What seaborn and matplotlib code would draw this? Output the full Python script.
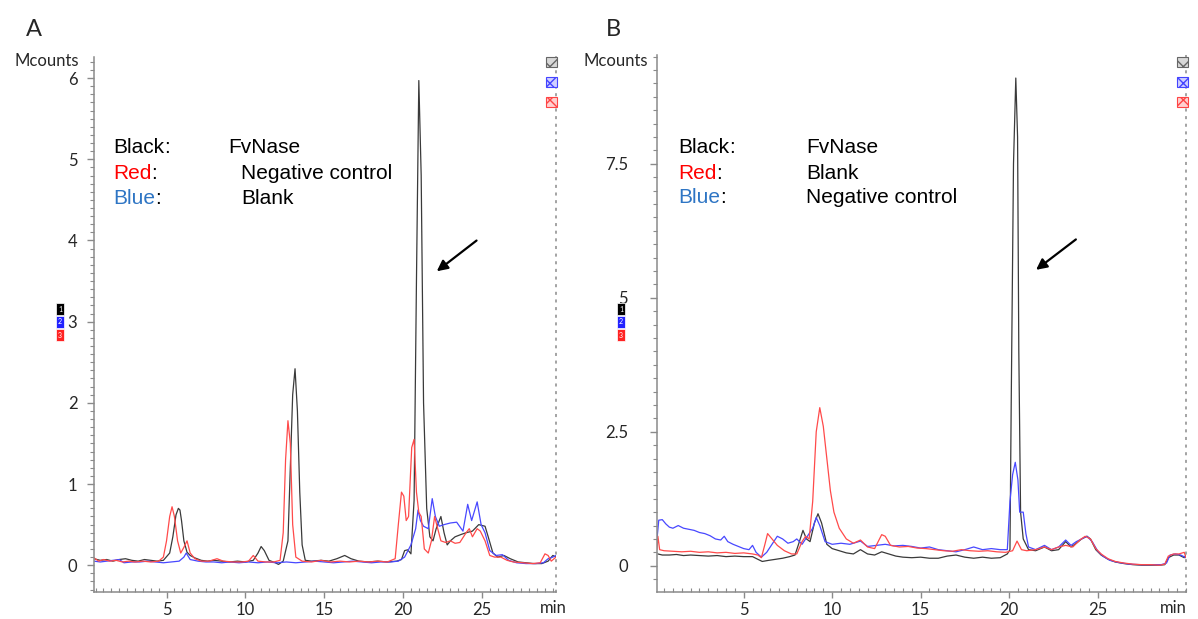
import numpy as np
import pandas as pd
import matplotlib
matplotlib.use('Agg')
import matplotlib.pyplot as plt
from matplotlib.ticker import MultipleLocator
from matplotlib.patches import Rectangle
import seaborn as sns

# (time [min], signal [Mcounts])
a_black = [(0.4, 0.08), (0.8, 0.06), (1.2, 0.07), (1.6, 0.05), (2.0, 0.07), (2.4, 0.08), (2.8, 0.06),
           (3.2, 0.05), (3.6, 0.07), (4.0, 0.06), (4.4, 0.05), (4.8, 0.06), (5.2, 0.15), (5.4, 0.35),
           (5.6, 0.62), (5.75, 0.70), (5.85, 0.68), (5.95, 0.55), (6.1, 0.30), (6.3, 0.16), (6.5, 0.12),
           (6.8, 0.09), (7.2, 0.06), (7.6, 0.05), (8.0, 0.06), (8.5, 0.05), (9.0, 0.04), (9.5, 0.05),
           (10.0, 0.04), (10.5, 0.06), (10.8, 0.15), (11.0, 0.23), (11.2, 0.18), (11.5, 0.06),
           (11.9, 0.03), (12.1, 0.01), (12.4, 0.05), (12.7, 0.30), (12.85, 1.2), (13.0, 2.1),
           (13.15, 2.42), (13.3, 1.9), (13.45, 0.9), (13.6, 0.25), (13.8, 0.06), (14.2, 0.05),
           (14.8, 0.06), (15.3, 0.05), (15.8, 0.08), (16.3, 0.12), (16.7, 0.08), (17.2, 0.05),
           (17.8, 0.04), (18.4, 0.05), (19.0, 0.04), (19.6, 0.05), (19.9, 0.07), (20.1, 0.18),
           (20.3, 0.19), (20.5, 0.14), (20.7, 0.8), (20.85, 3.5), (21.0, 5.97), (21.15, 4.8),
           (21.3, 2.0), (21.5, 0.7), (21.7, 0.35), (21.9, 0.30), (22.1, 0.45), (22.4, 0.60),
           (22.6, 0.40), (22.8, 0.25), (23.0, 0.30), (23.3, 0.35), (23.7, 0.38), (24.0, 0.40),
           (24.4, 0.42), (24.8, 0.50), (25.2, 0.48), (25.4, 0.35), (25.7, 0.15), (26.0, 0.10),
           (26.4, 0.12), (26.8, 0.08), (27.3, 0.04), (27.8, 0.03), (28.3, 0.02), (28.8, 0.02),
           (29.2, 0.05), (29.5, 0.12), (29.7, 0.10)]

a_red = [(0.4, 0.09), (0.7, 0.05), (1.0, 0.07), (1.4, 0.05), (1.8, 0.06), (2.2, 0.04), (2.6, 0.05),
         (3.0, 0.04), (3.5, 0.05), (4.0, 0.04), (4.5, 0.05), (4.8, 0.10), (5.0, 0.30), (5.2, 0.60),
         (5.35, 0.72), (5.5, 0.60), (5.7, 0.30), (5.9, 0.15), (6.1, 0.22), (6.3, 0.30), (6.5, 0.15),
         (6.8, 0.08), (7.2, 0.05), (7.7, 0.05), (8.2, 0.08), (8.6, 0.05), (9.2, 0.04), (9.8, 0.04),
         (10.2, 0.05), (10.5, 0.12), (10.8, 0.05), (11.3, 0.04), (11.8, 0.04), (12.2, 0.06),
         (12.4, 0.40), (12.55, 1.30), (12.7, 1.78), (12.85, 1.50), (13.0, 0.50), (13.2, 0.10),
         (13.6, 0.05), (14.2, 0.04), (14.8, 0.06), (15.4, 0.04), (16.0, 0.05), (16.6, 0.04),
         (17.2, 0.05), (17.8, 0.04), (18.4, 0.05), (19.0, 0.04), (19.5, 0.08), (19.7, 0.50),
         (19.9, 0.90), (20.05, 0.85), (20.2, 0.55), (20.35, 0.60), (20.55, 1.45), (20.7, 1.55),
         (20.85, 0.90), (21.0, 0.65), (21.15, 0.60), (21.35, 0.20), (21.6, 0.15), (21.8, 0.30),
         (22.0, 0.60), (22.2, 0.45), (22.4, 0.30), (22.7, 0.28), (23.0, 0.30), (23.3, 0.27),
         (23.6, 0.28), (24.0, 0.40), (24.2, 0.45), (24.4, 0.35), (24.7, 0.45), (24.9, 0.42),
         (25.2, 0.30), (25.5, 0.12), (25.8, 0.10), (26.2, 0.10), (26.6, 0.06), (27.0, 0.04),
         (27.6, 0.03), (28.2, 0.02), (28.7, 0.03), (29.0, 0.14), (29.2, 0.12), (29.4, 0.05),
         (29.7, 0.10)]

a_blue = [(0.4, 0.05), (0.8, 0.04), (1.2, 0.05), (1.6, 0.06), (2.0, 0.07), (2.3, 0.03), (2.8, 0.04),
          (3.3, 0.04), (3.8, 0.05), (4.3, 0.04), (4.8, 0.03), (5.3, 0.04), (5.8, 0.05), (6.1, 0.10),
          (6.25, 0.15), (6.5, 0.07), (7.0, 0.05), (7.5, 0.04), (8.0, 0.04), (8.5, 0.03), (9.0, 0.04),
          (9.6, 0.03), (10.2, 0.04), (10.8, 0.03), (11.4, 0.04), (12.0, 0.03), (12.6, 0.04),
          (13.2, 0.03), (13.8, 0.04), (14.4, 0.05), (15.0, 0.04), (15.6, 0.03), (16.2, 0.04),
          (16.8, 0.05), (17.4, 0.04), (18.0, 0.03), (18.6, 0.04), (19.2, 0.04), (19.7, 0.05),
          (20.1, 0.10), (20.5, 0.25), (20.8, 0.45), (20.95, 0.68), (21.1, 0.55), (21.3, 0.48),
          (21.6, 0.45), (21.85, 0.82), (22.05, 0.60), (22.3, 0.48), (22.6, 0.50), (23.0, 0.52),
          (23.4, 0.53), (23.8, 0.42), (24.1, 0.75), (24.35, 0.55), (24.7, 0.78), (24.95, 0.50),
          (25.2, 0.40), (25.5, 0.18), (25.9, 0.12), (26.3, 0.13), (26.7, 0.06), (27.2, 0.03),
          (27.8, 0.02), (28.4, 0.02), (28.9, 0.03), (29.2, 0.08), (29.5, 0.10), (29.7, 0.12)]

b_black = [(0.15, 0.22), (0.4, 0.20), (0.8, 0.20), (1.2, 0.21), (1.6, 0.19), (2.0, 0.20), (2.5, 0.19),
           (3.0, 0.18), (3.5, 0.19), (4.0, 0.17), (4.5, 0.18), (5.0, 0.17), (5.5, 0.17), (5.8, 0.12),
           (6.05, 0.08), (6.4, 0.10), (6.8, 0.12), (7.2, 0.14), (7.6, 0.17), (7.9, 0.20), (8.1, 0.40),
           (8.35, 0.66), (8.55, 0.50), (8.75, 0.45), (9.0, 0.80), (9.2, 0.97), (9.4, 0.80), (9.7, 0.40),
           (10.0, 0.32), (10.4, 0.28), (10.8, 0.24), (11.2, 0.22), (11.6, 0.30), (12.0, 0.22),
           (12.4, 0.20), (12.8, 0.26), (13.2, 0.22), (13.6, 0.18), (14.0, 0.16), (14.5, 0.15),
           (15.0, 0.16), (15.5, 0.14), (16.0, 0.14), (16.5, 0.18), (17.0, 0.20), (17.5, 0.16),
           (18.0, 0.14), (18.5, 0.16), (19.0, 0.14), (19.5, 0.15), (19.9, 0.22), (20.05, 0.30),
           (20.12, 3.0), (20.25, 7.5), (20.38, 9.1), (20.48, 8.0), (20.55, 4.0), (20.65, 1.0),
           (20.8, 0.50), (21.1, 0.30), (21.5, 0.28), (22.0, 0.35), (22.4, 0.28), (22.8, 0.30),
           (23.2, 0.45), (23.5, 0.35), (23.8, 0.42), (24.1, 0.50), (24.4, 0.55), (24.6, 0.50),
           (24.9, 0.30), (25.2, 0.20), (25.6, 0.12), (26.0, 0.07), (26.5, 0.04), (27.0, 0.02),
           (27.5, 0.01), (28.0, 0.01), (28.5, 0.01), (28.8, 0.02), (29.0, 0.15), (29.3, 0.20),
           (29.6, 0.20), (29.9, 0.15), (30.0, 0.20)]

b_red = [(0.1, 0.30), (0.15, 0.55), (0.25, 0.30), (0.5, 0.28), (1.0, 0.27), (1.5, 0.26), (2.0, 0.27),
         (2.5, 0.25), (3.0, 0.26), (3.5, 0.24), (4.0, 0.25), (4.5, 0.23), (5.0, 0.24), (5.5, 0.22),
         (5.8, 0.20), (6.0, 0.15), (6.2, 0.40), (6.35, 0.60), (6.6, 0.50), (6.9, 0.38), (7.3, 0.28),
         (7.7, 0.22), (8.0, 0.22), (8.3, 0.45), (8.5, 0.55), (8.7, 0.50), (8.9, 1.20), (9.1, 2.50),
         (9.3, 2.95), (9.5, 2.60), (9.7, 2.00), (9.9, 1.40), (10.1, 1.00), (10.4, 0.70), (10.8, 0.50),
         (11.2, 0.42), (11.6, 0.48), (12.0, 0.35), (12.4, 0.32), (12.8, 0.58), (13.0, 0.55),
         (13.3, 0.38), (13.8, 0.35), (14.3, 0.36), (14.8, 0.33), (15.3, 0.32), (15.8, 0.30),
         (16.3, 0.28), (16.8, 0.27), (17.3, 0.30), (17.8, 0.28), (18.3, 0.27), (18.8, 0.28),
         (19.3, 0.26), (19.8, 0.25), (20.2, 0.28), (20.45, 0.46), (20.7, 0.30), (21.0, 0.28),
         (21.5, 0.30), (22.0, 0.35), (22.4, 0.30), (22.8, 0.35), (23.2, 0.38), (23.6, 0.35),
         (24.0, 0.48), (24.3, 0.55), (24.6, 0.50), (24.9, 0.32), (25.2, 0.22), (25.6, 0.13),
         (26.0, 0.08), (26.5, 0.05), (27.0, 0.03), (27.5, 0.02), (28.0, 0.02), (28.5, 0.01),
         (28.8, 0.03), (29.0, 0.18), (29.3, 0.22), (29.6, 0.22), (29.9, 0.25), (30.0, 0.15)]

b_blue = [(0.1, 0.50), (0.2, 0.85), (0.4, 0.86), (0.6, 0.78), (0.8, 0.72), (1.0, 0.70), (1.3, 0.75),
          (1.6, 0.70), (1.9, 0.68), (2.2, 0.66), (2.5, 0.62), (2.8, 0.60), (3.1, 0.56), (3.4, 0.50),
          (3.7, 0.48), (3.9, 0.55), (4.1, 0.45), (4.4, 0.40), (4.7, 0.36), (5.0, 0.32), (5.3, 0.30),
          (5.5, 0.38), (5.7, 0.25), (6.0, 0.16), (6.3, 0.25), (6.6, 0.40), (6.9, 0.55), (7.2, 0.50),
          (7.5, 0.42), (7.8, 0.45), (8.0, 0.50), (8.3, 0.40), (8.6, 0.55), (8.9, 0.70), (9.1, 0.90),
          (9.3, 0.75), (9.6, 0.45), (10.0, 0.40), (10.5, 0.42), (11.0, 0.40), (11.6, 0.46),
          (12.0, 0.36), (12.5, 0.38), (13.0, 0.40), (13.5, 0.37), (14.0, 0.38), (14.5, 0.36),
          (15.0, 0.33), (15.5, 0.35), (16.0, 0.30), (16.5, 0.28), (17.0, 0.26), (17.5, 0.30),
          (18.0, 0.35), (18.5, 0.30), (19.0, 0.32), (19.5, 0.30), (19.9, 0.30), (20.05, 1.20),
          (20.2, 1.70), (20.35, 1.93), (20.5, 1.60), (20.6, 1.00), (20.8, 1.00), (20.95, 0.60),
          (21.1, 0.35), (21.5, 0.30), (22.0, 0.38), (22.4, 0.30), (22.8, 0.35), (23.2, 0.48),
          (23.5, 0.38), (23.8, 0.45), (24.1, 0.50), (24.4, 0.55), (24.7, 0.45), (25.0, 0.28),
          (25.3, 0.18), (25.7, 0.10), (26.2, 0.06), (26.8, 0.03), (27.4, 0.02), (28.0, 0.02),
          (28.6, 0.02), (28.9, 0.05), (29.1, 0.20), (29.4, 0.22), (29.7, 0.20), (30.0, 0.15)]

x_ticks = [5, 10, 15, 20, 25]
a_yticks = [0, 1, 2, 3, 4, 5, 6]
a_ylabels = ['0', '1', '2', '3', '4', '5', '6']
b_yticks = [0, 2.5, 5, 7.5]
b_ylabels = ['0', '2.5', '5', '7.5']

a_legend = [('Black', 'FvNase'), ('Red', 'Negative control'), ('Blue', 'Blank')]
b_legend = [('Black', 'FvNase'), ('Red', 'Blank'), ('Blue', 'Negative control')]

W, H = 1198, 619
c_black, c_red, c_blue = '#3a3a3a', '#ff4a4a', '#4848ff'
word_col = {'Black': 'black', 'Red': '#ff0000', 'Blue': '#2e75c4'}

sns.set_style("white")
plt.rcParams['font.family'] = ['Lato', 'DejaVu Sans']

fig = plt.figure(figsize=(W / 100, H / 100), dpi=100)


def add_ax(left, right, top, bottom):
    return fig.add_axes([left / W, 1 - bottom / H, (right - left) / W, (bottom - top) / H])


def draw_panel(ax, traces, xlim, ylim, yticks, ylabels, ystep, ypad):
    for pts, col in traces:
        df = pd.DataFrame(pts, columns=['t', 'v'])
        sns.lineplot(data=df, x='t', y='v', color=col, lw=0.9, ax=ax,
                     sort=False, estimator=None)
    ax.set_xlim(*xlim)
    ax.set_ylim(*ylim)
    ax.set_xticks(x_ticks)
    ax.xaxis.set_minor_locator(MultipleLocator(0.5))
    ax.set_yticks(yticks)
    ax.set_yticklabels(ylabels)
    ax.yaxis.set_minor_locator(MultipleLocator(ystep))
    ax.set_xlabel('')
    ax.set_ylabel('')
    ax.spines['top'].set_visible(False)
    ax.spines['right'].set_linestyle((0, (1, 4)))
    for s in ['left', 'bottom', 'right']:
        ax.spines[s].set_color('#8a8a8a')
        ax.spines[s].set_linewidth(1.1)
    ax.tick_params(axis='y', which='major', direction='out', length=5, width=1,
                   color='#8a8a8a', labelsize=12, pad=ypad, left=True)
    ax.tick_params(axis='y', which='minor', direction='out', length=3, width=0.8,
                   color='#8a8a8a', left=True)
    ax.tick_params(axis='x', which='major', direction='out', length=4, width=1,
                   color='#8a8a8a', labelsize=12, pad=3.5, bottom=True)
    ax.tick_params(axis='x', which='minor', direction='in', length=3, width=0.8,
                   color='#8a8a8a', bottom=True)


def legend_block(ax, rows, x1, x2s, ys):
    for (word, desc), x2, y in zip(rows, x2s, ys):
        t = ax.text(x1, y, word, transform=ax.transAxes, color=word_col[word],
                    fontsize=15, family=['Liberation Sans'], va='center')
        ax.annotate(':', xy=(1, 0.5), xycoords=t, va='center', ha='left',
                    fontsize=15, family=['Liberation Sans'], color='black')
        ax.text(x2, y, desc, transform=ax.transAxes, color='black',
                fontsize=15, family=['Liberation Sans'], va='center')


def trace_marks(x0, xr):
    # numbered trace markers on the left, hatched boxes on the right
    for i, (col, y0, y1) in enumerate([('#000000', 303, 315), ('#2222ff', 316, 328),
                                       ('#ff2222', 329, 341)]):
        fig.patches.append(Rectangle((x0 / W, 1 - y1 / H), 8 / W, (y1 - y0) / H,
                                     transform=fig.transFigure, facecolor=col,
                                     edgecolor='white', lw=0.5))
        fig.text((x0 + 4) / W, 1 - (y0 + y1) / 2 / H, str(i + 1), color='white',
                 fontsize=5, ha='center', va='center')
    for col, fill, y0 in [('#666666', '#d8d8d8', 57), ('#4444ff', '#d0d0ff', 77),
                          ('#ff4444', '#ffd0d0', 97)]:
        fig.patches.append(Rectangle((xr / W, 1 - (y0 + 10) / H), 11 / W, 10 / H,
                                     transform=fig.transFigure, facecolor=fill,
                                     edgecolor=col, hatch='xx', lw=0.8))


ax_a = add_ax(94, 556, 57, 592)
ax_b = add_ax(657, 1186, 55, 592)

draw_panel(ax_a, [(a_black, c_black), (a_blue, c_blue), (a_red, c_red)],
           (0.4, 29.7), (-0.33, 6.26), a_yticks, a_ylabels, 0.1, 7)
draw_panel(ax_b, [(b_black, c_black), (b_blue, c_blue), (b_red, c_red)],
           (0.1, 30.0), (-0.49, 9.53), b_yticks, b_ylabels, 0.25, 16)

legend_block(ax_a, a_legend, 0.041, [0.290, 0.318, 0.318], [0.830, 0.783, 0.736])
legend_block(ax_b, b_legend, 0.040, [0.282, 0.282, 0.282], [0.827, 0.780, 0.734])

ax_a.annotate('', xy=(22.0, 3.6), xytext=(24.8, 4.02),
              arrowprops=dict(arrowstyle='-|>', color='black', lw=1.6, mutation_scale=16))
ax_b.annotate('', xy=(21.4, 5.49), xytext=(23.9, 6.12),
              arrowprops=dict(arrowstyle='-|>', color='black', lw=1.6, mutation_scale=16))

fig.text(34 / W, 1 - 30 / H, 'A', fontsize=17, ha='center', va='center')
fig.text(613 / W, 1 - 30 / H, 'B', fontsize=17, ha='center', va='center')
fig.text(79 / W, 1 - 61 / H, 'Mcounts', fontsize=12, ha='right', va='center')
fig.text(648 / W, 1 - 61 / H, 'Mcounts', fontsize=12, ha='right', va='center')
fig.text(553 / W, 1 - 608 / H, 'min', fontsize=12, ha='center', va='center')
fig.text(1173 / W, 1 - 608 / H, 'min', fontsize=12, ha='center', va='center')

trace_marks(56, 546)
trace_marks(617, 1177)

fig.savefig('out.png', dpi=100)
